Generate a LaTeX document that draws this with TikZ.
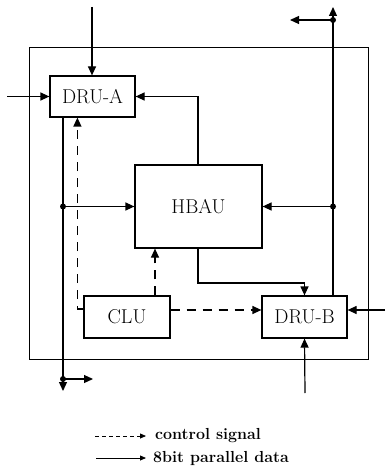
\documentclass[tikz,border=0pt]{standalone}
\usepackage{fontspec}
\usetikzlibrary{arrows.meta,calc}
\begin{document}
\begin{tikzpicture}[x=1pt,y=-1pt,
  box/.style={draw,line width=1.2pt,inner sep=0pt,font=\fontsize{20}{22}\selectfont\addfontfeatures{LetterSpace=3}},
  wire/.style={line width=1.2pt},
  arr/.style={wire,-{Triangle[length=9pt,width=8pt]}},
  darr/.style={wire,dash pattern=on 9pt off 7pt,-{Triangle[length=9pt,width=8pt]}},
  jdot/.style={fill,circle,inner sep=0pt,minimum size=6pt},
  legtext/.style={anchor=west,inner sep=0pt,font=\fontsize{16}{18}\selectfont\bfseries\addfontfeatures{LetterSpace=5}}]
\useasboundingbox (0,0) rectangle (385,473);
% frame
\draw[line width=1pt] (29,48) rectangle (368,359);
% boxes
\node[box,minimum width=85pt,minimum height=41pt] (dra) at (92.5,96.5) {DRU-A};
\node[box,minimum width=127pt,minimum height=83pt] (hbau) at (198.5,206.5) {HBAU};
\node[box,minimum width=86pt,minimum height=42pt] (clu) at (127,317) {CLU};
\node[box,minimum width=85pt,minimum height=42pt] (drb) at (304.5,317) {DRU-B};
% coordinates
\coordinate (inA) at (92,7);
\coordinate (inAL) at (7,96.5);
\coordinate (outL) at (63,391);
\coordinate (jL1) at (63,206.5);
\coordinate (jL2) at (63,379);
\coordinate (outL2) at (93,379);
\coordinate (outR) at (333,7);
\coordinate (jR1) at (333,20);
\coordinate (outR2) at (290,20);
\coordinate (jR2) at (333,206.5);
\coordinate (hb) at (198,248);
\coordinate (hbk) at (198,283);
\coordinate (inBR) at (385,310);
\coordinate (inBB) at (305,393);
% data connectors
\draw[arr] (inA) -- (inA |- dra.north);
\draw[arr] (inAL) -- (dra.west);
\draw[arr] (hbau.north -| hb) |- (dra.east);
\draw[arr] (dra.south -| outL) -- (outL);
\draw[arr] (jL1) -- (hbau.west);
\draw[arr] (jL2) -- (outL2);
\draw[arr] (drb.north -| outR) -- (outR);
\draw[arr] (jR1) -- (outR2);
\draw[arr] (jR2) -- (hbau.east);
\draw[arr] (hb) -- (hbk) -| (drb.north);
\draw[arr] (inBR) -- (inBR -| drb.east);
\draw[arr] (inBB) -- (drb.south);
% control connectors
\draw[darr] (clu.west |- 0,309) -| ($(dra.south west)+(28,0)$);
\draw[darr] (clu.north -| 155,0) -- (hbau.south -| 155,0);
\draw[darr] (clu.east |- 0,310) -- (drb.west |- 0,310);
% junction dots
\node[jdot] at (jL1) {};
\node[jdot] at (jL2) {};
\node[jdot] at (jR1) {};
\node[jdot] at (jR2) {};
% legend
\coordinate (l1a) at (95,436);
\coordinate (l1b) at (146,436);
\coordinate (l2a) at (96,458);
\coordinate (l2b) at (146,458);
\draw[line width=0.8pt,dash pattern=on 4pt off 3pt,-{Triangle[length=6pt,width=5pt]}] (l1a) -- (l1b);
\draw[line width=0.8pt,-{Triangle[length=6pt,width=5pt]}] (l2a) -- (l2b);
\node[legtext] (t1) at (155,436) {control signal};
\node[legtext] (t2) at (153,458) {8bit parallel data};
\end{tikzpicture}
\end{document}
